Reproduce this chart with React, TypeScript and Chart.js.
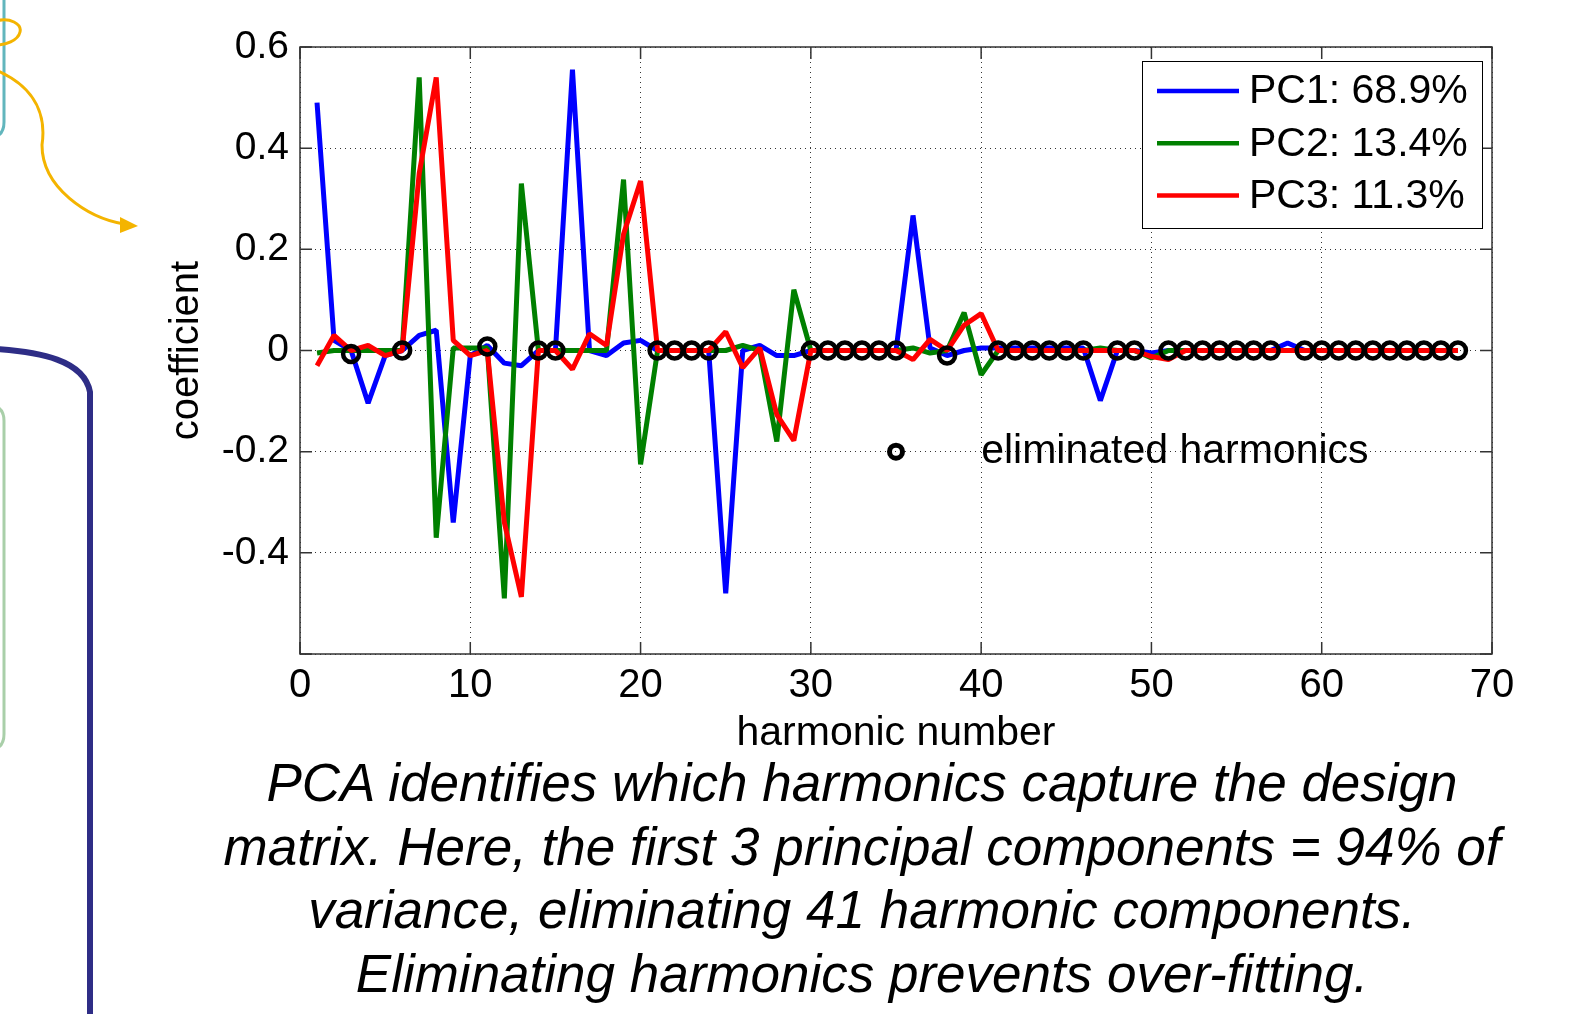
import React, { useEffect, useRef } from 'react';
import { Chart, registerables } from 'chart.js';

Chart.register(...registerables);

const FONT = '"Liberation Sans", Arial, Helvetica, sans-serif';

// ---- data ----
const harmonics = [1, 2, 3, 4, 5, 6, 7, 8, 9, 10, 11, 12, 13, 14, 15, 16, 17, 18, 19, 20,
  21, 22, 23, 24, 25, 26, 27, 28, 29, 30, 31, 32, 33, 34, 35, 36, 37, 38, 39, 40,
  41, 42, 43, 44, 45, 46, 47, 48, 49, 50, 51, 52, 53, 54, 55, 56, 57, 58, 59, 60,
  61, 62, 63, 64, 65, 66, 67, 68];

const pc1 = [0.49, 0.02, 0.0, -0.104, -0.01, 0.0, 0.03, 0.04, -0.34, -0.01,
  0.01, -0.025, -0.03, 0.0, 0.0, 0.555, 0.0, -0.01, 0.015, 0.02,
  0.0, 0.0, 0.0, 0.0, -0.48, 0.0, 0.01, -0.01, -0.01, 0.0,
  0.0, 0.0, 0.0, 0.0, 0.0, 0.267, 0.005, -0.01, 0.0, 0.005,
  0.005, 0.005, 0.005, 0.005, 0.005, 0.005, -0.099, 0.0, 0.0, -0.005,
  0.0, 0.0, 0.0, 0.0, 0.0, 0.0, 0.0, 0.015, 0.0, 0.0,
  0.0, 0.0, 0.0, 0.0, 0.0, 0.0, 0.0, 0.0];

const pc2 = [-0.005, 0.0, 0.0, 0.0, 0.0, 0.0, 0.54, -0.37, 0.005, 0.005,
  0.005, -0.49, 0.33, 0.0, 0.0, 0.0, 0.0, 0.0, 0.338, -0.225,
  0.0, 0.0, 0.0, 0.0, 0.0, 0.01, 0.0, -0.18, 0.12, 0.0,
  0.0, 0.0, 0.0, 0.0, 0.0, 0.005, -0.005, 0.0, 0.075, -0.048,
  0.0, 0.0, 0.0, 0.0, 0.0, 0.0, 0.005, 0.0, 0.0, -0.015,
  0.0, 0.0, 0.0, 0.0, 0.0, 0.0, 0.0, 0.0, 0.0, 0.0,
  0.0, 0.0, 0.0, 0.0, 0.0, 0.0, 0.0, 0.0];

const pc3 = [-0.03, 0.03, 0.0, 0.01, -0.01, 0.0, 0.35, 0.54, 0.02, -0.01,
  0.0, -0.34, -0.487, 0.0, 0.0, -0.037, 0.033, 0.01, 0.23, 0.335,
  0.0, 0.0, 0.0, 0.0, 0.037, -0.034, 0.005, -0.127, -0.178, 0.0,
  0.0, 0.0, 0.0, 0.0, 0.0, -0.018, 0.022, 0.0, 0.05, 0.073,
  0.0, 0.0, 0.0, 0.0, 0.0, 0.0, 0.0, 0.0, 0.0, -0.012,
  -0.018, 0.0, 0.0, 0.0, 0.0, 0.0, 0.0, 0.0, 0.0, 0.0,
  0.0, 0.0, 0.0, 0.0, 0.0, 0.0, 0.0, 0.0];

const eliminated = [3, 6, 11, 14, 15, 21, 22, 23, 24, 30, 31, 32, 33, 34, 35, 38,
  41, 42, 43, 44, 45, 46, 48, 49, 51, 52, 53, 54, 55, 56, 57,
  59, 60, 61, 62, 63, 64, 65, 66, 67, 68];
const eliminatedY = [-0.007, 0.0, 0.008, 0.0, 0.0, 0.0, 0.0, 0.0, 0.0, 0.0, 0.0, 0.0, 0.0, 0.0, 0.0, -0.01,
  0.0, 0.0, 0.0, 0.0, 0.0, 0.0, 0.0, 0.0, 0.0, 0.0, 0.0, 0.0, 0.0, 0.0, 0.0,
  0.0, 0.0, 0.0, 0.0, 0.0, 0.0, 0.0, 0.0, 0.0, 0.0];

const seriesLabels = ['PC1: 68.9%', 'PC2: 13.4%', 'PC3: 11.3%'];
const seriesColors = ['#0000ff', '#008000', '#ff0000'];

const xTickValues = [0, 10, 20, 30, 40, 50, 60, 70];
const xTickLabels = ['0', '10', '20', '30', '40', '50', '60', '70'];
const yTickValues = [-0.6, -0.4, -0.2, 0, 0.2, 0.4, 0.6];
const yTickLabels = ['', '-0.4', '-0.2', '0', '0.2', '0.4', '0.6'];

const annotationPoint = { x: 35, y: -0.2 };
const annotationText = 'eliminated harmonics';
const annotationTextX = 40;

const captionLines = [
  'PCA identifies which harmonics capture the design',
  'matrix. Here, the first 3 principal components = 94% of',
  'variance, eliminating 41 harmonic components.',
  'Eliminating harmonics prevents over-fitting.',
];

const pts = (xs: number[], ys: number[]) => xs.map((x, i) => ({ x, y: ys[i] }));

const framePlugin = {
  id: 'frame',
  afterDraw(chart: any) {
    const { ctx, chartArea: a, scales } = chart;
    const x = scales.x;
    const y = scales.y;
    ctx.save();
    // annotation text
    ctx.fillStyle = '#000';
    ctx.font = `41px ${FONT}`;
    ctx.textBaseline = 'middle';
    ctx.textAlign = 'left';
    ctx.fillText(annotationText, x.getPixelForValue(annotationTextX), y.getPixelForValue(annotationPoint.y));

    // frame
    ctx.strokeStyle = '#333';
    ctx.lineWidth = 1.5;
    ctx.strokeRect(a.left, a.top, a.right - a.left, a.bottom - a.top);
    const tl = 12;
    ctx.beginPath();
    xTickValues.forEach((v) => {
      const px = x.getPixelForValue(v);
      ctx.moveTo(px, a.bottom); ctx.lineTo(px, a.bottom - tl);
      ctx.moveTo(px, a.top); ctx.lineTo(px, a.top + tl);
    });
    yTickValues.forEach((v) => {
      const py = y.getPixelForValue(v);
      ctx.moveTo(a.left, py); ctx.lineTo(a.left + tl, py);
      ctx.moveTo(a.right, py); ctx.lineTo(a.right - tl, py);
    });
    ctx.stroke();

    // legend
    const bw = 340, bh = 167;
    const bx = a.right - 10 - bw;
    const by = a.top + 14;
    ctx.fillStyle = '#fff';
    ctx.fillRect(bx, by, bw, bh);
    ctx.strokeStyle = '#000';
    ctx.lineWidth = 1;
    ctx.strokeRect(bx + 0.5, by + 0.5, bw, bh);
    ctx.font = `41px ${FONT}`;
    ctx.textBaseline = 'middle';
    seriesLabels.forEach((lab, i) => {
      const ry = by + 30 + i * 52.3;
      ctx.strokeStyle = seriesColors[i];
      ctx.lineWidth = 4.5;
      ctx.beginPath();
      ctx.moveTo(bx + 15, ry);
      ctx.lineTo(bx + 97, ry);
      ctx.stroke();
      ctx.fillStyle = '#000';
      ctx.fillText(lab, bx + 107, ry + 1);
    });
    ctx.restore();
  },
};

export default function App() {
  const ref = useRef<HTMLCanvasElement>(null);

  useEffect(() => {
    const lineDs = (i: number, ys: number[], order: number) => ({
      type: 'line' as const,
      label: seriesLabels[i],
      data: pts(harmonics, ys),
      borderColor: seriesColors[i],
      backgroundColor: seriesColors[i],
      borderWidth: 5,
      borderJoinStyle: 'bevel',
      pointRadius: 0,
      tension: 0,
      fill: false,
      order,
    });
    const circleDs = (label: string, data: { x: number; y: number }[], r: number, bw: number) => ({
      type: 'scatter' as const,
      label,
      data,
      showLine: false,
      pointStyle: 'circle',
      pointRadius: r,
      pointBorderWidth: bw,
      pointBorderColor: '#000',
      pointBackgroundColor: 'rgba(0,0,0,0)',
      borderColor: '#000',
      backgroundColor: 'rgba(0,0,0,0)',
      order: 0,
    });
    const chart = new Chart(ref.current!, {
      type: 'line',
      data: {
        datasets: [
          lineDs(0, pc1, 3) as any,
          lineDs(1, pc2, 2) as any,
          lineDs(2, pc3, 1) as any,
          circleDs('eliminated harmonics', pts(eliminated, eliminatedY), 8, 4.5) as any,
          circleDs('annotation', [annotationPoint], 6.5, 5) as any,
        ],
      },
      options: {
        responsive: false,
        devicePixelRatio: 1,
        animation: false,
        layout: { padding: { left: 0, right: 99, top: 47, bottom: 256 } },
        plugins: {
          legend: { display: false },
          tooltip: { enabled: false },
          title: { display: false },
        },
        scales: {
          x: {
            type: 'linear',
            min: 0,
            max: 70,
            afterFit: (s: any) => { s.height = 104; },
            afterBuildTicks: (s: any) => { s.ticks = xTickValues.map((v) => ({ value: v })); },
            ticks: {
              color: '#000',
              font: { family: FONT, size: 40 },
              padding: 8,
              maxRotation: 0,
              autoSkip: false,
              callback: (_v: any, i: number) => xTickLabels[i],
            },
            grid: { color: 'rgba(0,0,0,0.8)', lineWidth: 1, drawTicks: false },
            border: { display: false, dash: [1, 4] },
            title: {
              display: true,
              text: 'harmonic number',
              color: '#000',
              font: { family: FONT, size: 41 },
              padding: { top: 0, bottom: 0 },
            },
          },
          y: {
            type: 'linear',
            min: -0.6,
            max: 0.6,
            afterFit: (s: any) => { s.width = 300; },
            afterBuildTicks: (s: any) => { s.ticks = yTickValues.map((v) => ({ value: v })); },
            ticks: {
              color: '#000',
              font: { family: FONT, size: 39 },
              padding: 11,
              autoSkip: false,
              callback: (_v: any, i: number) => yTickLabels[i],
            },
            grid: { color: 'rgba(0,0,0,0.8)', lineWidth: 1, drawTicks: false },
            border: { display: false, dash: [1, 4] },
            title: {
              display: true,
              text: 'coefficient',
              color: '#000',
              font: { family: FONT, size: 40 },
              padding: { top: 163, bottom: 0 },
            },
          },
        },
      } as any,
      plugins: [framePlugin],
    });
    return () => chart.destroy();
  }, []);

  return (
    <div style={{ position: 'absolute', left: 0, top: 0, width: 1591, height: 1014, background: '#fff', overflow: 'hidden' }}>
      <svg width={1591} height={1014} style={{ position: 'absolute', left: 0, top: 0 }}>
        <path d="M 4 -10 L 4 122 Q 4 138 -12 138" stroke="#62b6bd" strokeWidth={3} fill="none" />
        <path d="M -4 21 C 10 17, 22 24, 20 32 C 18 41, 5 45, -4 45" stroke="#f4b400" strokeWidth={3} fill="none" />
        <path d="M -4 70 C 38 88, 46 118, 42 145 C 42 188, 88 218, 124 224" stroke="#f4b400" strokeWidth={3} fill="none" />
        <polygon points="120,217 138,226 120,233" fill="#f4b400" />
        <path d="M -5 349 C 40 352, 84 360, 90 392 L 90 1020" stroke="#2e2d86" strokeWidth={6} fill="none" />
        <path d="M -12 405 Q 4 405 4 421 L 4 734 Q 4 750 -12 750" stroke="#a9cfa9" strokeWidth={3} fill="none" />
      </svg>
      <canvas ref={ref} width={1591} height={1014} style={{ position: 'absolute', left: 0, top: 0, width: 1591, height: 1014 }} />
      <div style={{ position: 'absolute', left: 62, top: 751, width: 1600, fontFamily: FONT, fontStyle: 'italic', fontSize: 53, lineHeight: '63.6px', color: '#000', textAlign: 'center' }}>
        {captionLines.map((l, i) => (
          <div key={i} style={{ whiteSpace: 'nowrap' }}>{l}</div>
        ))}
      </div>
    </div>
  );
}
